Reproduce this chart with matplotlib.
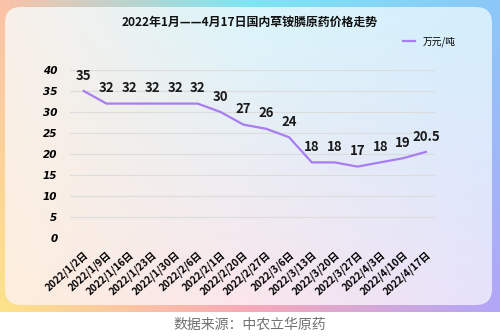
import matplotlib.pyplot as plt
import numpy as np
from matplotlib.patches import FancyBboxPatch

plt.rcParams['font.family'] = ['Noto Sans CJK SC', 'DejaVu Sans']

dates = ["2022/1/2日", "2022/1/9日", "2022/1/16日", "2022/1/23日", "2022/1/30日",
         "2022/2/6日", "2022/2/1日", "2022/2/20日", "2022/2/27日", "2022/3/6日",
         "2022/3/13日", "2022/3/20日", "2022/3/27日", "2022/4/3日", "2022/4/10日",
         "2022/4/17日"]
price = [35, 32, 32, 32, 32, 32, 30, 27, 26, 24, 18, 18, 17, 18, 19, 20.5]
price_labels = ["35", "32", "32", "32", "32", "32", "30", "27", "26", "24",
                "18", "18", "17", "18", "19", "20.5"]

W, H = 500, 336
fig = plt.figure(figsize=(W / 100, H / 100), dpi=100)

# background layer in pixel coords
bg = fig.add_axes([0, 0, 1, 1])
bg.set_xlim(0, W)
bg.set_ylim(H, 0)
bg.axis("off")


def corner_grad(tl, tr, bl, br, tm=None, bm=None, n=120):
    tl, tr, bl, br = [np.array(c, float) for c in (tl, tr, bl, br)]
    u = np.linspace(0, 1, n)[None, :, None]
    v = np.linspace(0, 1, n)[:, None, None]
    if tm is None:
        top = tl * (1 - u) + tr * u
        bot = bl * (1 - u) + br * u
    else:
        tm, bm = np.array(tm, float), np.array(bm, float)
        top = np.where(u < 0.5, tl * (1 - 2 * u) + tm * 2 * u, tm * (2 - 2 * u) + tr * (2 * u - 1))
        bot = np.where(u < 0.5, bl * (1 - 2 * u) + bm * 2 * u, bm * (2 - 2 * u) + br * (2 * u - 1))
    return top * (1 - v) + bot * v


def hexc(h):
    return [int(h[i:i + 2], 16) / 255 for i in (1, 3, 5)]


# outer colourful frame
frame = corner_grad(hexc("#fbc2a8"), hexc("#8cc8f8"), hexc("#fde38a"), hexc("#b2a6f8"),
                    tm=hexc("#7ce6f4"), bm=hexc("#f9a8b8"))
bg.imshow(frame, extent=(0, W, 312, 0), aspect="auto", interpolation="bilinear")

# inner rounded panel
panel = FancyBboxPatch((5, 7), 487, 298, boxstyle="round,pad=0,rounding_size=16",
                       transform=bg.transData, facecolor="none", edgecolor="none")
bg.add_patch(panel)
inner = corner_grad(hexc("#f8f0ea"), hexc("#d4eefc"), hexc("#fdeedd"), hexc("#e6e2fb"),
                    tm=hexc("#daf5fb"), bm=hexc("#fbe6ec"))
im = bg.imshow(inner, extent=(5, 492, 305, 7), aspect="auto", interpolation="bilinear")
im.set_clip_path(panel)

bg.text(250, 22, "2022年1月——4月17日国内草铵膦原药价格走势", ha="center", va="center",
        fontsize=8.6, fontweight="bold", color="#111111")
bg.text(250, 325, "数据来源：中农立华原药", ha="center", va="center",
        fontsize=10, color="#707070")

# main chart
ax = fig.add_axes([70 / W, 1 - 238 / H, 365 / W, 168 / H])
ax.patch.set_alpha(0)
x = np.arange(len(price))
ax.plot(x, price, color="#a87cf2", lw=1.6, label="万元/吨")
ax.set_xlim(-0.6, len(price) - 0.6)
ax.set_ylim(0, 40)
ax.set_yticks(range(0, 41, 5))
ax.grid(axis="y", color="#dcdcdc", lw=0.8)
ax.set_axisbelow(True)
for s in ax.spines.values():
    s.set_visible(False)
ax.tick_params(length=0)
ax.tick_params(axis="y", pad=9, labelsize=7.5)
ax.set_yticklabels([str(t) for t in range(0, 41, 5)], fontstyle="italic",
                   fontweight="bold", family="DejaVu Sans")
ax.set_xticks(x)
ax.set_xticklabels(dates, rotation=42, ha="right", rotation_mode="anchor",
                   fontsize=7.3, fontweight="bold")
ax.tick_params(axis="x", pad=8)

for xi, yi, t in zip(x, price, price_labels):
    ax.annotate(t, (xi, yi), xytext=(0, 6), textcoords="offset points",
                ha="center", va="bottom", fontsize=9.5, fontweight="bold",
                color="#1a1a1a")

ax.legend(loc="upper right", bbox_to_anchor=(1.08, 1.25), frameon=False,
          fontsize=7, handlelength=1.2, handletextpad=0.8)

fig.savefig("out.png", dpi=100)
